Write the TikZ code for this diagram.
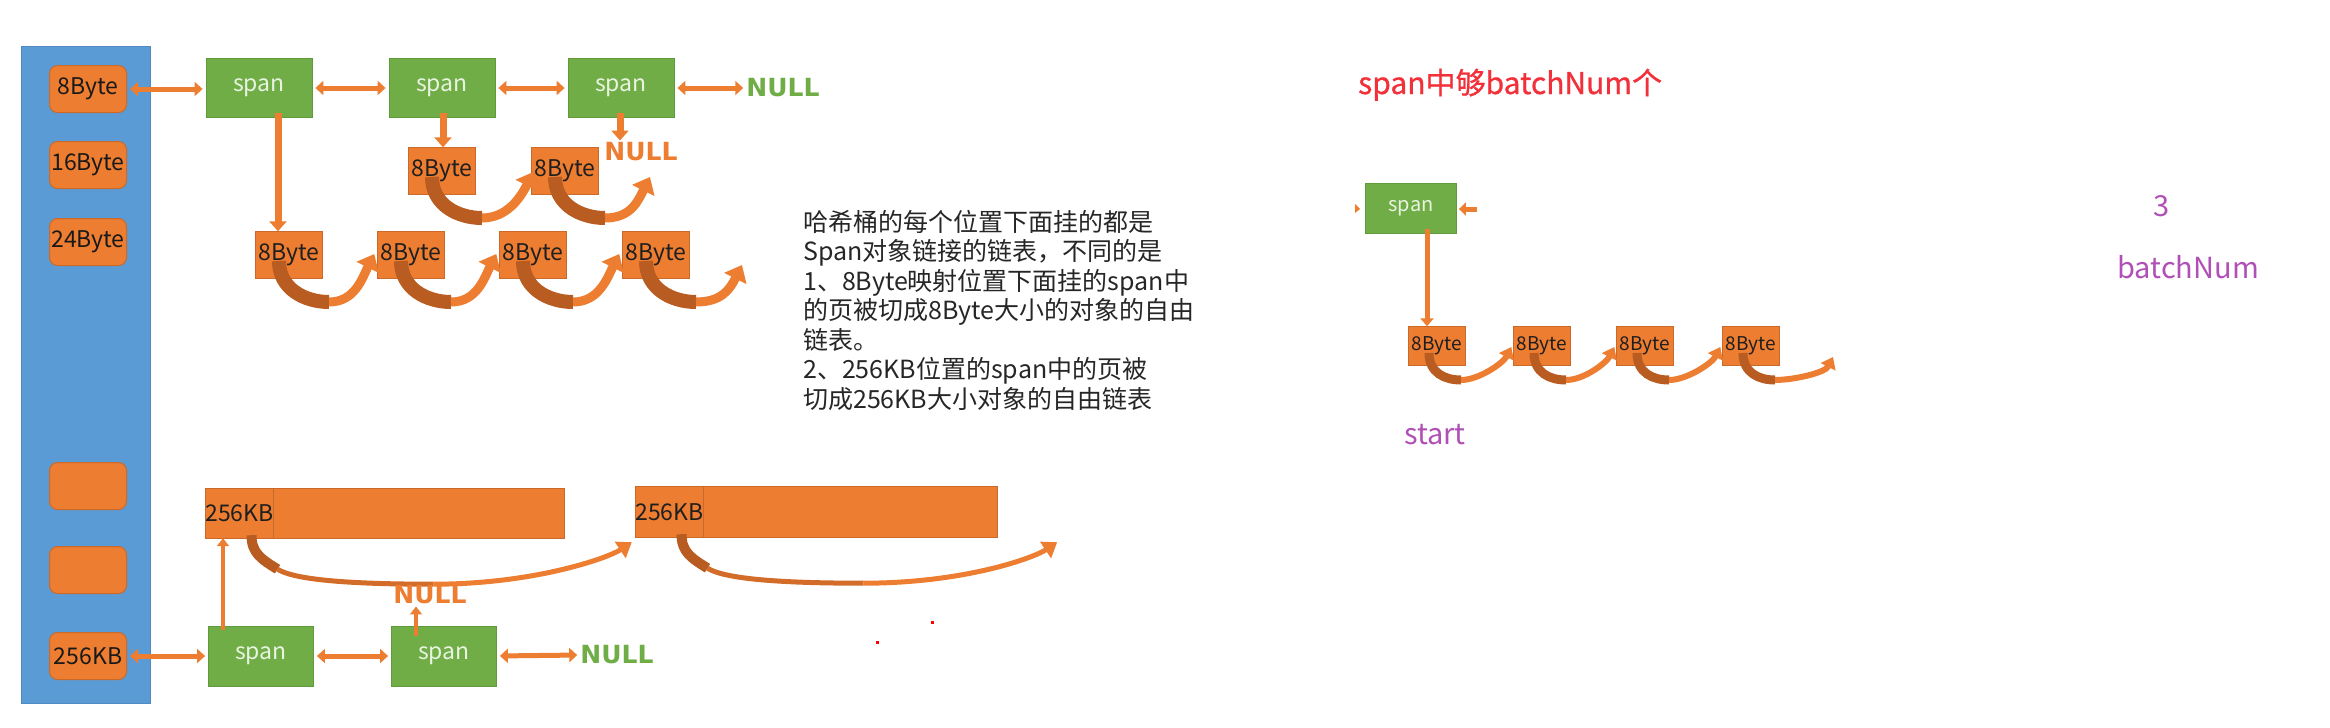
\documentclass[tikz,border=0pt]{standalone}
\usepackage{fontspec}
\setmainfont{Noto Sans CJK SC}
\newfontfamily\nullfnt{DejaVu Sans}
\usetikzlibrary{arrows.meta,calc}
\definecolor{borange}{HTML}{ED7D31}
\definecolor{bordor}{HTML}{C9692A}
\definecolor{bgreen}{HTML}{70AD47}
\definecolor{bordgr}{HTML}{5F9A3B}
\definecolor{bblue}{HTML}{5B9BD5}
\definecolor{bordbl}{HTML}{4F8AC2}
\definecolor{arcdk}{HTML}{B85C22}
\definecolor{arcmid}{HTML}{D26C28}
\definecolor{spantxt}{HTML}{E8F3E0}
\definecolor{ttxt}{HTML}{262626}
\definecolor{purp}{HTML}{B04FB5}
\definecolor{tred}{HTML}{F2303A}
\pgfdeclarelayer{bg}
\pgfdeclarelayer{arcs}
\pgfsetlayers{bg,arcs,main}
\newcommand\bytearc[2]{%
  \draw[arcdk, line width=14pt] ($(#1.center)+(-10,6)$) .. controls +(0,28) and +(-24,0) .. ($(#1.center)+(40,47)$);
  \draw[borange, line width=9pt, -{Triangle[length=15pt,width=24pt]}] ($(#1.center)+(40,47)$) .. controls +(26,0) and +(-12,24) .. (#2);
}
\newcommand\smallarc[2]{%
  \draw[arcdk, line width=9pt] ($(#1.center)+(-8,7)$) .. controls +(0,20) and +(-16,0) .. ($(#1.center)+(24,34)$);
  \draw[borange, line width=6pt, -{Triangle[length=11pt,width=16pt]}] ($(#1.center)+(24,34)$) .. controls +(18,0) and +(-8,16) .. (#2);
}
\newcommand\longarc[2]{%
  \draw[arcdk, line width=10pt] ($(#1.south)+(12,-3)$) .. controls +(0,18) and +(-16,-10) .. ($(#1.south)+(38,31)$);
  \draw[arcmid, line width=5pt] ($(#1.south)+(38,31)$) .. controls +(16,10) and +(-90,0) .. ($(#1.south)+(194,46)$);
  \draw[borange, line width=5pt, -{Triangle[length=14pt,width=19pt]}] ($(#1.south)+(194,46)$) .. controls +(100,0) and +(-24,16) .. (#2);
}
\begin{document}
\begin{tikzpicture}[x=1pt,y=-1pt,
  lbox/.style={draw=bordor, line width=1pt, fill=borange, rounded corners=8pt, minimum width=77pt, minimum height=47pt, inner sep=0pt, font=\fontsize{23}{23}\selectfont, text=black!90},
  spanbox/.style={draw=bordgr, line width=0.8pt, fill=bgreen, minimum width=106pt, minimum height=59pt, inner sep=0pt, text=spantxt, font=\fontsize{23}{23}\selectfont},
  rspanbox/.style={spanbox, minimum width=91pt, minimum height=50pt, font=\fontsize{20}{20}\selectfont},
  bytebox/.style={minimum width=67pt, minimum height=47pt, inner sep=0pt, font=\fontsize{23}{23}\selectfont, text=black!88},
  rbytebox/.style={minimum width=57pt, minimum height=39pt, inner sep=0pt, font=\fontsize{19}{19}\selectfont, text=black!88},
  dbl/.style={draw=borange, line width=5pt, {Triangle[length=8pt,width=14pt]}-{Triangle[length=8pt,width=14pt]}, shorten >=3pt, shorten <=3pt},
  down/.style={draw=borange, line width=7pt, -{Triangle[length=10pt,width=17pt]}},
  rdown/.style={draw=borange, line width=5pt, -{Triangle[length=8pt,width=13pt]}},
  thinup/.style={draw=borange, line width=4pt, -{Triangle[length=8pt,width=12pt]}},
  nullg/.style={text=bgreen, font=\nullfnt\bfseries\fontsize{25}{25}\selectfont, inner sep=0pt},
  nullo/.style={nullg, text=borange},
  purptxt/.style={text=purp, font=\fontsize{29}{29}\selectfont, inner sep=0pt}
]
\useasboundingbox (0,0) rectangle (2330,728);

% hash bucket column
\node[draw=bordbl, fill=bblue, line width=1pt, minimum width=129pt, minimum height=657pt, inner sep=0pt] (hash) at (85.5,374.5) {};
\node[lbox] (lb1) at (88,89) {8Byte};
\node[lbox] (lb2) at (88,165) {16Byte};
\node[lbox] (lb3) at (88,242) {24Byte};
\node[lbox] (lb4) at (88,486) {};
\node[lbox] (lb5) at (88,570) {};
\node[lbox] (lb6) at (88,656) {256KB};

% top spans
\node[spanbox] (s1) at (259,88) {span};
\node[spanbox] (s2) at (442,88) {span};
\node[spanbox] (s3) at (621,88) {span};
\node[nullg] (nullA) at (783,88) {NULL};
\node[nullo] (nullB) at (641,152) {NULL};

% 8Byte objects
\node[bytebox] (m1) at (442,171) {8Byte};
\node[bytebox] (m2) at (565,171) {8Byte};
\node[bytebox] (b1) at (289,255) {8Byte};
\node[bytebox] (b2) at (411,255) {8Byte};
\node[bytebox] (b3) at (533,255) {8Byte};
\node[bytebox] (b4) at (656,255) {8Byte};

% 256KB objects
\node[minimum width=358pt, minimum height=49pt, inner sep=0pt] (bar1) at (385,513.5) {};
\node[minimum width=67pt, minimum height=49pt, inner sep=0pt, font=\fontsize{23}{23}\selectfont, text=black!88] (cell1) at (239.5,513.5) {256KB};
\node[minimum width=360pt, minimum height=50pt, inner sep=0pt] (bar2) at (817,512) {};
\node[minimum width=65pt, minimum height=50pt, inner sep=0pt, font=\fontsize{23}{23}\selectfont, text=black!88] (cell2) at (669.5,512) {256KB};

% bottom spans
\node[spanbox, minimum width=105pt, minimum height=60pt] (s4) at (261,656) {span};
\node[spanbox, minimum width=105pt, minimum height=60pt] (s5) at (444,656) {span};
\node[nullg] (nullC) at (617,655) {NULL};
\node[nullo] (nullD) at (430,595) {NULL};

% description
\node[anchor=north west, inner sep=0pt, align=left, text=ttxt, font=\fontsize{25}{29.5}\selectfont] (desc) at (803,210)
 {哈希桶的每个位置下面挂的都是\\Span对象链接的链表，不同的是\\1、8Byte映射位置下面挂的span中\\的页被切成8Byte大小的对象的自由\\链表。\\2、256KB位置的span中的页被\\切成256KB大小对象的自由链表};

% right part
\node[anchor=base west, inner sep=0pt, text=tred, font=\fontsize{30}{30}\selectfont\addfontfeatures{FakeBold=0.8}] (title) at (1358,94) {span中够batchNum个};
\node[rspanbox] (rspan) at (1411,208) {span};
\node[rbytebox] (r1) at (1437,346) {8Byte};
\node[rbytebox] (r2) at (1542,346) {8Byte};
\node[rbytebox] (r3) at (1645,346) {8Byte};
\node[rbytebox] (r4) at (1751,346) {8Byte};
\node[purptxt] (start) at (1435,435) {start};
\node[purptxt] (three) at (2162,206) {3};
\node[purptxt] (bnum) at (2188,267) {batchNum};

% fills of object boxes
\begin{pgfonlayer}{bg}
\foreach \n in {m1,m2,b1,b2,b3,b4,bar1,cell1,bar2,cell2,r1,r2,r3,r4}
  \filldraw[fill=borange, draw=bordor, line width=0.8pt] (\n.south west) rectangle (\n.north east);
\end{pgfonlayer}

% double arrows
\draw[dbl] (lb1.east) -- (lb1.east -| s1.west);
\draw[dbl] (s1.east) -- (s2.west);
\draw[dbl] (s2.east) -- (s3.west);
\draw[dbl] (s3.east) -- (nullA.west);
\draw[dbl] (lb6.east) -- (lb6.east -| s4.west);
\draw[dbl] (s4.east) -- (s5.west);
\draw[dbl] (s5.east) -- (nullC.west);

% down arrows
\coordinate (d1) at ($(s1.south)+(19,-5)$);
\draw[down] (d1) -- (d1 |- b1.north);
\coordinate (d2) at ($(s2.south)+(1,-5)$);
\draw[down] (d2) -- (d2 |- m1.north);
\coordinate (d3) at ($(s3.south)+(-1,-5)$);
\draw[down, shorten >=2pt] (d3) -- (d3 |- nullB.north);

% up arrows
\coordinate (u4) at ($(s4.north)+(-38,4)$);
\draw[thinup] (u4) -- (u4 |- bar1.south);
\coordinate (u5) at ($(s5.north)+(-28,10)$);
\draw[thinup, shorten >=2pt] (u5) -- (u5 |- nullD.south);

% right arrows
\coordinate (rd) at ($(rspan.south)+(16,-4)$);
\draw[rdown] (rd) -- (rd |- r1.north);
\coordinate (rin) at ($(rspan.east)+(20,1)$);
\draw[draw=borange, line width=5pt, -{Triangle[length=7pt,width=13pt]}] (rin) -- ($(rspan.east)+(2,1)$);
\fill[borange] ($(rspan.west)+(-10,-4)$) -- ($(rspan.west)+(-5,1)$) -- ($(rspan.west)+(-10,5)$) -- cycle;

% curved arrows
\coordinate (tm3) at ($(m2.center)+(85,6)$);
\coordinate (tb5) at ($(b4.center)+(86,10)$);
\coordinate (tr5) at ($(r4.center)+(82,11)$);
\coordinate (tl2) at ($(bar2.south west)+(-5,5)$);
\coordinate (tl3) at ($(bar2.south east)+(60,5)$);
\begin{pgfonlayer}{arcs}
\bytearc{m1}{$(m2.west)+(2,1)$}
\bytearc{m2}{tm3}
\bytearc{b1}{$(b2.west)+(-3,-1)$}
\bytearc{b2}{$(b3.west)+(-3,-1)$}
\bytearc{b3}{$(b4.west)+(-3,-1)$}
\bytearc{b4}{tb5}
\smallarc{r1}{$(r2.west)+(-2,1)$}
\smallarc{r2}{$(r3.west)+(-2,1)$}
\smallarc{r3}{$(r4.west)+(-2,1)$}
\smallarc{r4}{tr5}
\longarc{cell1}{tl2}
\longarc{cell2}{tl3}
\end{pgfonlayer}

% stray red dots
\fill[red] (931,621) rectangle (934,624);
\fill[red] (876,641) rectangle (879,644);
\end{tikzpicture}
\end{document}
